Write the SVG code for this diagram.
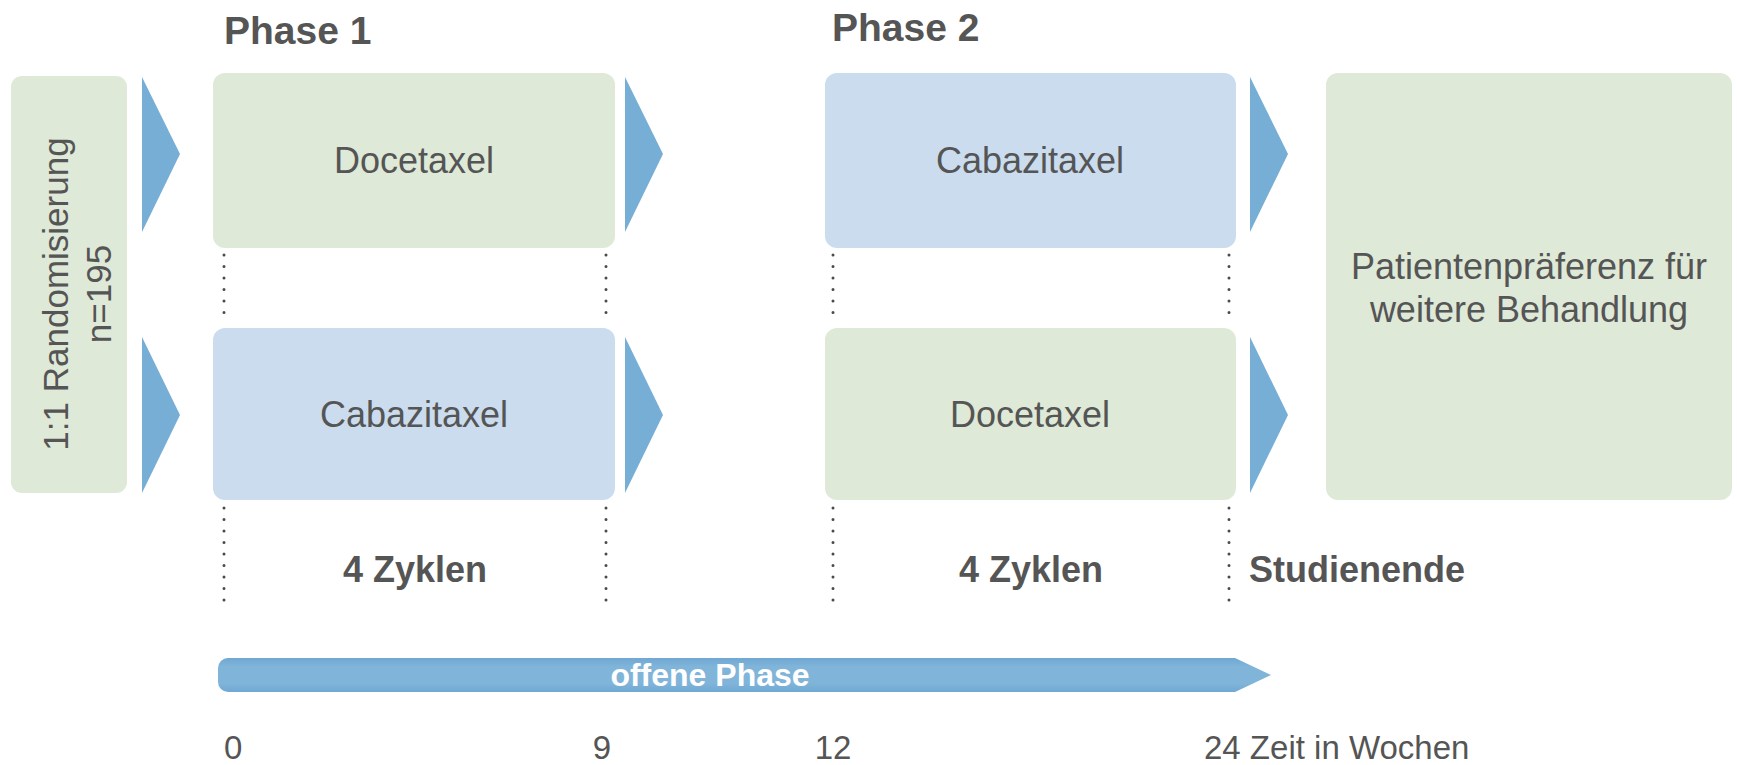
<svg xmlns="http://www.w3.org/2000/svg" width="1737" height="765" viewBox="0 0 1737 765">
<style>
text{font-family:"Liberation Sans",Arial,sans-serif;fill:#555555}
.green{fill:#dee9d7}
.blue{fill:#cadcee}
.tri{fill:#76aed6}
.lbl{font-size:36px;text-anchor:middle}
.bold{font-weight:bold}
.dot{stroke:#4a4a4a;stroke-width:3;stroke-linecap:round;stroke-dasharray:0 11.5;fill:none}
.ax{font-size:33px}
</style>
<defs>
<linearGradient id="barg" x1="0" y1="0" x2="0" y2="1">
<stop offset="0" stop-color="#6fa8d3"/>
<stop offset="0.25" stop-color="#80b4d9"/>
<stop offset="0.75" stop-color="#80b4d9"/>
<stop offset="1" stop-color="#6fa8d3"/>
</linearGradient>
</defs>

<text x="224" y="44" class="bold" style="font-size:39px">Phase 1</text>
<text x="832" y="41" class="bold" style="font-size:39px">Phase 2</text>

<g id="randomisierung">
<rect x="11" y="76" width="116" height="417" rx="11" class="green"/>
<text transform="translate(68,294) rotate(-90)" text-anchor="middle" style="font-size:35px">1:1 Randomisierung</text>
<text transform="translate(111,294) rotate(-90)" text-anchor="middle" style="font-size:35px">n=195</text>
</g>

<g id="p1-docetaxel">
<rect x="213" y="73" width="402" height="175" rx="12" class="green"/>
<text x="414" y="173" class="lbl">Docetaxel</text>
</g>
<g id="p1-cabazitaxel">
<rect x="213" y="328" width="402" height="172" rx="12" class="blue"/>
<text x="414" y="427" class="lbl">Cabazitaxel</text>
</g>
<g id="p2-cabazitaxel">
<rect x="825" y="73" width="411" height="175" rx="12" class="blue"/>
<text x="1030" y="173" class="lbl">Cabazitaxel</text>
</g>
<g id="p2-docetaxel">
<rect x="825" y="328" width="411" height="172" rx="12" class="green"/>
<text x="1030" y="427" class="lbl">Docetaxel</text>
</g>
<g id="patientenpraeferenz">
<rect x="1326" y="73" width="406" height="427" rx="12" class="green"/>
<text x="1529" y="279" class="lbl">Patientenpräferenz für</text>
<text x="1529" y="322" class="lbl">weitere Behandlung</text>
</g>

<g id="connectors">
<polygon class="tri" points="142,77 180,154 142,232"/>
<polygon class="tri" points="142,337 180,415 142,493"/>
<polygon class="tri" points="625,77 663,154 625,232"/>
<polygon class="tri" points="625,337 663,415 625,493"/>
<polygon class="tri" points="1250,77 1288,154 1250,232"/>
<polygon class="tri" points="1250,337 1288,415 1250,493"/>
</g>

<g id="dotted-lines">
<line class="dot" x1="224" y1="255" x2="224" y2="324"/>
<line class="dot" x1="606" y1="255" x2="606" y2="324"/>
<line class="dot" x1="833" y1="255" x2="833" y2="324"/>
<line class="dot" x1="1229" y1="255" x2="1229" y2="324"/>
<line class="dot" x1="224" y1="508" x2="224" y2="608"/>
<line class="dot" x1="606" y1="508" x2="606" y2="608"/>
<line class="dot" x1="833" y1="508" x2="833" y2="608"/>
<line class="dot" x1="1229" y1="508" x2="1229" y2="608"/>
</g>

<g id="labels">
<text x="415" y="582" class="lbl bold">4 Zyklen</text>
<text x="1031" y="582" class="lbl bold">4 Zyklen</text>
<text x="1249" y="582" class="bold" style="font-size:36px">Studienende</text>
</g>

<g id="offene-phase">
<path d="M228,658 H1235 L1271,675 L1235,692 H228 A10,10 0 0 1 218,682 V668 A10,10 0 0 1 228,658 Z" fill="url(#barg)"/>
<text x="710" y="686" text-anchor="middle" class="bold" style="font-size:32px;fill:#ffffff">offene Phase</text>
</g>

<g id="axis">
<text x="224" y="759" class="ax">0</text>
<text x="602" y="759" class="ax" text-anchor="middle">9</text>
<text x="833" y="759" class="ax" text-anchor="middle">12</text>
<text x="1204" y="759" class="ax">24 Zeit in Wochen</text>
</g>
</svg>
